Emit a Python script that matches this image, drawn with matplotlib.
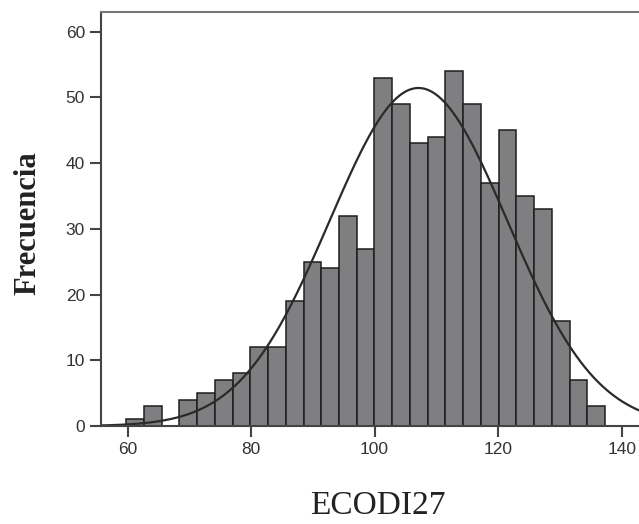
import numpy as np
import matplotlib.pyplot as plt

# bin counts (bin width ~2.87, starting at ~59.8)
bin_start = 59.8
bin_width = 2.87
counts = [1, 3, 0, 4, 5, 7, 8, 12, 12, 19, 25, 24, 32, 27,
          53, 49, 43, 44, 54, 49, 37, 45, 35, 33, 16, 7, 3]
x_ticks = [60, 80, 100, 120, 140]
y_ticks = [0, 10, 20, 30, 40, 50, 60]

# fitted normal curve
mean = 107.1
sd = 14.4

edges = bin_start + bin_width * np.arange(len(counts))
n = sum(counts)

fig = plt.figure(figsize=(6.39, 5.24), dpi=100)
ax = fig.add_axes([0.158, 0.187, 0.842, 0.79])

ax.bar(edges, counts, width=bin_width, align='edge',
       color='#7f7f81', edgecolor='#1e1e1e', linewidth=1.1)

xs = np.linspace(54, 145, 400)
ys = n * bin_width / (sd * np.sqrt(2 * np.pi)) * np.exp(-(xs - mean) ** 2 / (2 * sd ** 2))
ax.plot(xs, ys, color='#2a2a2a', linewidth=1.6)

ax.set_xlim(55.7, 142.8)
ax.set_ylim(0, 63)
ax.set_xticks(x_ticks)
ax.set_yticks(y_ticks)
ax.spines['right'].set_visible(False)
for s in ['left', 'bottom', 'top']:
    ax.spines[s].set_color('#444444')
    ax.spines[s].set_linewidth(1.5)
ax.spines['top'].set_color('#777777')
ax.tick_params(length=8, width=1.5, color='#444444', labelcolor='#333333',
               labelsize=12.5)
for lab in ax.get_xticklabels() + ax.get_yticklabels():
    lab.set_family('Liberation Sans')

fig.text(378 / 639, 1 - 506 / 524, 'ECODI27', family='Liberation Serif',
         fontsize=24, color='#222222', ha='center', va='center')
fig.text(28 / 639, 1 - 223 / 524, 'Frecuencia', family='Liberation Serif',
         fontweight='bold', fontsize=22, color='#222222', rotation=90,
         ha='center', va='center')

fig.savefig('out.png', dpi=100)
